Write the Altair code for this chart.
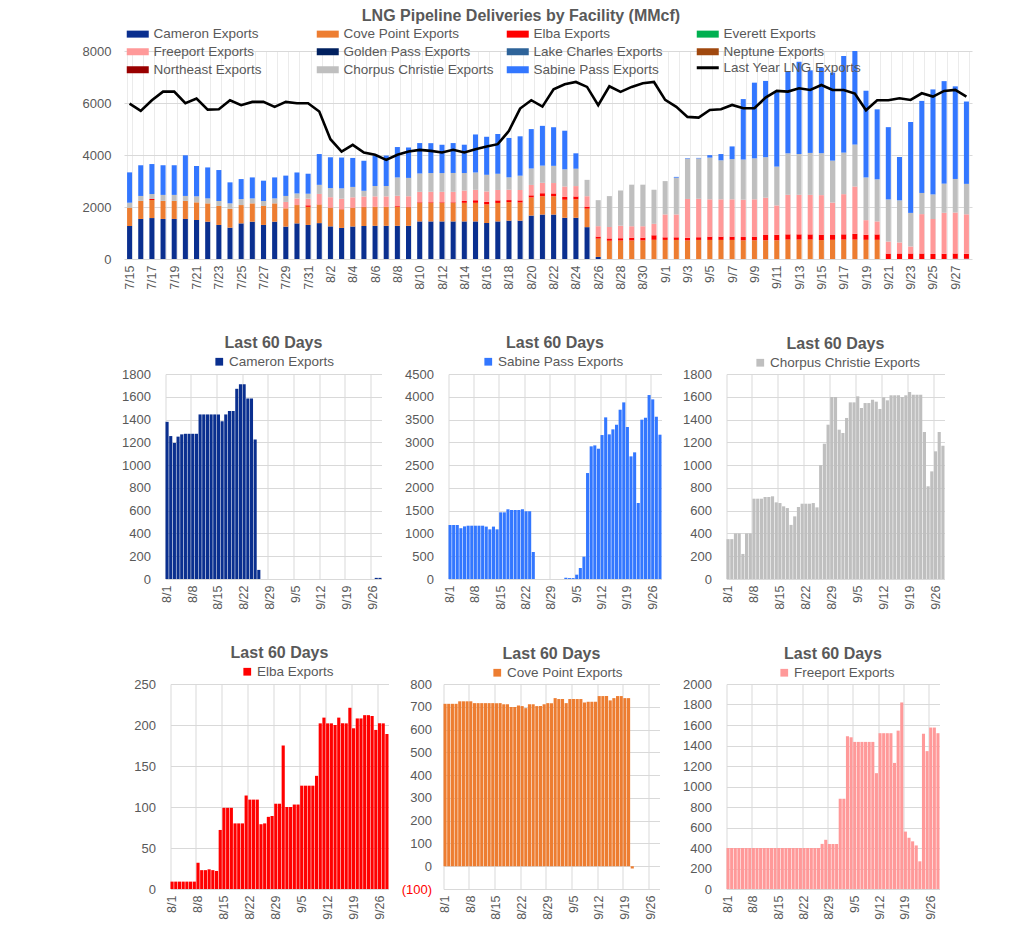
import json
import datetime as dt
import altair as alt
import pandas as pd

TXT = "#595959"
GRID = "#D9D9D9"
VGRID = "#EBEBEB"
FONT = "Liberation Sans"

# ---------------- categories ----------------
start = dt.date(2023, 7, 15)
top_dates = [f"{d.month}/{d.day}" for d in (start + dt.timedelta(days=k) for k in range(76))]
panel_dates = top_dates[17:]          # 8/1 .. 9/28
top_labels = [d if k % 2 == 0 else "" for k, d in enumerate(top_dates)]
panel_tick_idx = [0, 7, 14, 21, 28, 35, 42, 49, 56]

series_names = ["Cameron Exports", "Cove Point Exports", "Elba Exports", "Everett Exports",
                "Freeport Exports", "Golden Pass Exports", "Lake Charles Exports", "Neptune Exports",
                "Northeast Exports", "Chorpus Christie Exports", "Sabine Pass Exports"]
series_colors = ["#0A2F8F", "#ED7D31", "#FF0000", "#00B050",
                 "#FF9999", "#00205F", "#2E6399", "#A0480E",
                 "#990000", "#BFBFBF", "#3377FF"]

# ---------------- values (MMcf) ----------------
# 7/15 .. 7/31 (top chart only)
cameron_jul = [1270, 1540, 1575, 1540, 1540, 1540, 1500, 1435, 1310, 1205, 1370, 1435, 1310, 1435, 1245, 1370, 1310]
cove_jul = [705, 695, 695, 695, 695, 695, 680, 705, 730, 730, 705, 705, 730, 705, 705, 705, 695]
elba_jul = [0, 0, 38, 0, 0, 0, 0, 0, 0, 0, 0, 0, 0, 0, 0, 0, 60]
freeport_jul = [0, 0, 0, 0, 0, 0, 0, 0, 0, 0, 0, 0, 0, 0, 245, 255, 255]
corpus_jul = [190, 190, 190, 230, 230, 190, 230, 190, 190, 205, 230, 190, 190, 190, 230, 190, 190]
sabine_jul = [1167, 1180, 1154, 1141, 1141, 1564, 1167, 1192, 1192, 808, 769, 808, 782, 808, 782, 808, 770]

# 8/1 .. 9/28 (last 60 days panels)
cameron_60 = [1380, 1255, 1195, 1250, 1270, 1275, 1275, 1275, 1275, 1445, 1445, 1445, 1445, 1445, 1445, 1385,
              1445, 1475, 1475, 1670, 1710, 1710, 1585, 1585, 1225, 80, 0, 0, 0, 0, 0,
              0, 0, 0, 0, 0, 0, 0, 0, 0, 0, 0, 0, 0, 0, 0, 0, 0, 0, 0, 0, 0, 0, 0, 0, 0, 0, 10, 10]
cove_60 = [713, 713, 713, 713, 724, 724, 724, 724, 716, 716, 716, 716, 716, 716, 716, 716, 711, 711, 699, 699,
           706, 703, 694, 711, 711, 703, 703, 711, 716, 716, 738,
           734, 734, 716, 734, 734, 734, 734, 719, 722, 722, 722, 747, 747, 747, 728, 738, 747, 747, 738, 738,
           -10, None, None, None, None, None, None, None]
elba_60 = [9, 9, 9, 9, 9, 9, 9, 32, 23, 23, 24, 23, 22, 72, 99, 99, 99, 80, 80, 80, 114, 109, 109, 109, 79, 80,
           88, 89, 104, 104, 175,
           100, 100, 103, 103, 126, 126, 126, 126, 138, 202, 209, 202, 202, 200, 209, 202, 202, 221, 196, 208,
           208, 212, 212, 211, 194, 202, 202, 189]
freeport_60 = [400, 400, 400, 400, 400, 400, 400, 400, 400, 400, 400, 400, 400, 400, 400, 400, 400, 400, 400,
               400, 400, 400, 400, 400, 400, 400, 440, 480, 440, 440, 440,
               880, 880, 1490, 1480, 1435, 1435, 1435, 1435, 1435, 1435, 1130, 1520, 1520, 1520, 1520, 1230,
               1545, 1820, 560, 500, 465, 425, 270, 1515, 1345, 1575, 1575, 1520]
corpus_60 = [350, 350, 400, 400, 220, 400, 400, 705, 705, 705, 720, 720, 726, 673, 667, 638, 623, 475, 550, 632,
             661, 661, 661, 667, 629, 1000, 1188, 1355, 1598, 1598, 1311,
             1282, 1414, 1551, 1551, 1604, 1501, 1545, 1545, 1575, 1557, 1493, 1595, 1569, 1613, 1613, 1613,
             1598, 1613, 1642, 1618, 1618, 1618, 1291, 814, 945, 1121, 1291, 1170]
sabine_60 = [1185, 1185, 1185, 1115, 1155, 1170, 1170, 1170, 1170, 1170, 1150, 1090, 1150, 1090, 1463, 1463,
             1530, 1515, 1515, 1515, 1530, 1485, 1485, 593, 0, 0, 0, 0, 0, 0, 0,
             0, 30, 20, 20, 95, 241, 490, 2326, 2912, 2933, 2860, 3160, 3548, 3175, 3285, 3387, 3716, 3877,
             3336, 2692, 2780, 1668, 3497, 3541, 4038, 3943, 3562, 3168]
zero_series = [0, 0, 0, 0, 0, 0, 0, 0, 0, 0, 0, 0, 0, 0, 0, 0, 0, 0, 0, 0, 0, 0, 0, 0, 0, 0, 0, 0, 0, 0, 0, 0,
               0, 0, 0, 0, 0, 0, 0, 0, 0, 0, 0, 0, 0, 0, 0, 0, 0, 0, 0, 0, 0, 0, 0, 0, 0, 0, 0, 0, 0, 0, 0, 0,
               0, 0, 0, 0, 0, 0, 0, 0, 0, 0, 0, 0]

last_year = [5978, 5696, 6106, 6438, 6438, 5990, 6170, 5747, 5760, 6106, 5914, 6042, 6042, 5850, 6042, 5990, 5990,
             5670, 4608, 4134, 4390, 4096, 4006, 3814, 4006, 4134, 4198, 4160, 4096, 4198, 4096, 4224, 4326,
             4416, 4928, 5786, 6106, 5862, 6528, 6720, 6810, 6618, 5914, 6643, 6426, 6618, 6758, 6810,
             6118, 5850, 5466, 5440, 5734, 5760, 5926, 5798, 5798, 6208, 6464, 6438, 6566, 6502, 6694, 6502,
             6502, 6362, 5722, 6106, 6106, 6182, 6118, 6374, 6246, 6464, 6502, 6246]


def top_vals(jul, sixty):
    return [0 if v is None else v for v in jul + sixty]


top_series = [
    top_vals(cameron_jul, cameron_60),
    top_vals(cove_jul, cove_60),
    top_vals(elba_jul, elba_60),
    zero_series,
    top_vals(freeport_jul, freeport_60),
    zero_series, zero_series, zero_series, zero_series,
    top_vals(corpus_jul, corpus_60),
    top_vals(sabine_jul, sabine_60),
]

rows = []
for k, (name, vals) in enumerate(zip(series_names, top_series)):
    for i, v in enumerate(vals):
        rows.append({"i": i, "s": name, "k": k, "v": v})
bars_df = pd.DataFrame(rows)
line_df = pd.DataFrame({"i": list(range(76)), "v": last_year, "s": "Last Year LNG Exports"})

# ---------------- top chart ----------------
xaxis_top = alt.Axis(labelExpr=json.dumps(top_labels) + "[datum.value]", labelAngle=-90, labelFontSize=12.5,
                     labelColor=TXT, ticks=False, domain=False, grid=True, gridColor=VGRID,
                     tickBand="extent", labelPadding=6, title=None)
yaxis_top = alt.Axis(values=[0, 2000, 4000, 6000, 8000], format="d", grid=True, gridColor=GRID, ticks=False,
                     domain=False, labelColor=TXT, labelFontSize=13, labelPadding=13, title=None)
# right-hand axis without ticks/labels: only reserves a little blank space on the right side
yaxis_right = alt.Axis(orient="right", labels=False, ticks=False, domain=False, grid=False,
                       title=".", titleFontSize=2, titleColor="#FFFFFF", titlePadding=12)
xscale_top = alt.Scale(domain=list(range(76)), paddingInner=0.55, paddingOuter=0.275)
yscale_top = alt.Scale(domain=[0, 8000], nice=False)

rect_path = "M-2.2,-0.7H2.2V0.7H-2.2Z"
bars = alt.Chart(bars_df).mark_bar(clip=True).encode(
    x=alt.X("i:O", scale=xscale_top, axis=xaxis_top),
    y=alt.Y("v:Q", stack="zero", scale=yscale_top, axis=yaxis_top),
    color=alt.Color("s:N", scale=alt.Scale(domain=series_names, range=series_colors),
                    legend=alt.Legend(orient="none", legendX=7, legendY=-24, columns=4, direction="horizontal",
                                      gridAlign="all", columnPadding=12, rowPadding=3, title=None,
                                      symbolType=rect_path, symbolSize=100, symbolStrokeWidth=0, labelOffset=9,
                                      labelFontSize=13.5, labelColor=TXT, labelLimit=400)),
    order=alt.Order("k:Q", sort="ascending"),
)
line = alt.Chart(line_df).mark_line(strokeWidth=2.6).encode(
    x=alt.X("i:O", scale=xscale_top, axis=xaxis_top),
    y=alt.Y("v:Q", scale=yscale_top, axis=yaxis_right),
    stroke=alt.Stroke("s:N", scale=alt.Scale(domain=["Last Year LNG Exports"], range=["black"]),
                      legend=alt.Legend(orient="none", legendX=577, legendY=10, title=None,
                                        symbolType="M-2.2,0H2.2", symbolSize=100, symbolStrokeWidth=3,
                                        labelOffset=9, labelFontSize=13.5, labelColor=TXT)),
)
top = alt.layer(bars, line).properties(
    width=848, height=208,
    title=alt.Title("LNG Pipeline Deliveries by Facility (MMcf)", fontSize=16, fontWeight="bold",
                    color=TXT, anchor="middle", dx=-27, offset=3),
).resolve_axis(y="independent").resolve_legend(color="independent", stroke="independent")


# ---------------- small panels ----------------
def panel(name, color, vals, ymin, ymax, ystep, w, lx, ly, lpad, neg_labels=False):
    df = pd.DataFrame({"i": list(range(59)), "v": vals, "s": name})
    yvals = list(range(ymin, ymax + 1, ystep))
    ykw = dict(values=yvals, format="d", grid=True, gridColor=GRID, ticks=False, domain=False, labelColor=TXT,
               labelFontSize=13, labelPadding=lpad, title=None)
    if neg_labels:
        ykw["labelExpr"] = "datum.value < 0 ? '(' + (-datum.value) + ')' : datum.label"
        ykw["labelColor"] = alt.condition("datum.value < 0", alt.value("#FF0000"), alt.value(TXT))
    xaxis = alt.Axis(values=panel_tick_idx, labelExpr=json.dumps(panel_dates) + "[datum.value]",
                     labelAngle=-90, labelFontSize=12.5, labelColor=TXT, ticks=False, domain=False,
                     grid=True, gridColor=GRID, bandPosition=0, labelPadding=6, title=None)
    return alt.Chart(df).mark_bar().encode(
        x=alt.X("i:O", scale=alt.Scale(domain=list(range(59)), paddingInner=0.15, paddingOuter=0), axis=xaxis),
        y=alt.Y("v:Q", scale=alt.Scale(domain=[ymin, ymax], nice=False, zero=False), axis=alt.Axis(**ykw)),
        color=alt.Color("s:N", scale=alt.Scale(domain=[name], range=[color]),
                        legend=alt.Legend(orient="none", legendX=lx, legendY=ly, title=None, symbolType="square",
                                          symbolSize=60, symbolStrokeWidth=0, labelFontSize=13.5,
                                          labelColor=TXT, labelOffset=3, labelLimit=400)),
    ).properties(width=w, height=205,
                 title=alt.Title("Last 60 Days", fontSize=16, fontWeight="bold", color=TXT, offset=4))


p1 = panel("Cameron Exports", "#0A2F8F", cameron_60, 0, 1800, 200, 216, 47, -19, 15)
p2 = panel("Sabine Pass Exports", "#3377FF", sabine_60, 0, 4500, 500, 213, 33, -19, 15)
p3 = panel("Chorpus Christie Exports", "#BFBFBF", corpus_60, 0, 1800, 200, 218, 27, -18, 15)
p4 = panel("Elba Exports", "#FF0000", elba_60, 0, 250, 50, 218, 70, -19, 15)
p5 = panel("Cove Point Exports", "#ED7D31", cove_60, -100, 800, 100, 216, 47, -18, 12, neg_labels=True)
p6 = panel("Freeport Exports", "#FF9999", freeport_60, 0, 2000, 200, 213, 51, -18, 15)

ind = dict(color="independent", x="independent", y="independent")
row1 = alt.hconcat(alt.hconcat(p1, p2, spacing=23).resolve_scale(**ind), p3, spacing=21).resolve_scale(**ind)
row2 = alt.hconcat(alt.hconcat(p4, p5, spacing=11).resolve_scale(**ind), p6, spacing=23).resolve_scale(**ind)

upper = alt.vconcat(top, row1, spacing=45, center=True).resolve_scale(stroke="independent", **ind)

chart = alt.vconcat(upper, row2, spacing=35, center=True).resolve_scale(
    stroke="independent", **ind
).properties(
    padding={"left": 74, "top": 0, "right": 0, "bottom": 0}
).configure_view(stroke=None).configure_axis(labelFont=FONT).configure_legend(
    labelFont=FONT).configure_title(font=FONT)

chart.save("out.html", embed_options={"renderer": "svg", "actions": False})
